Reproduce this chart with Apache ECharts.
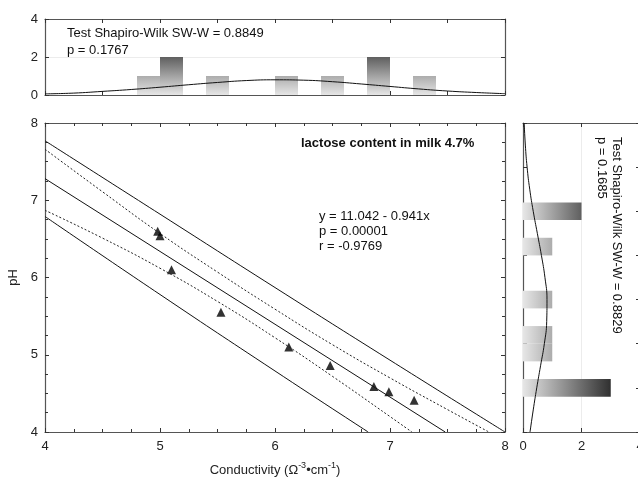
<!DOCTYPE html>
<html lang="en">
<head>
<meta charset="UTF-8">
<title>lactose-ph-conductivity</title>
<script src="https://cdn.jsdelivr.net/npm/echarts@6/dist/echarts.min.js"></script>
<style>html,body{margin:0;padding:0;background:#fff;}</style>
</head>
<body>
<div id="main" style="width:638px;height:481px;"></div>
<script>
// measured samples (conductivity, pH)
var condX = [4.98, 5.00, 5.10, 5.53, 6.12, 6.48, 6.86, 6.99, 7.21];
var phY   = [6.60, 6.54, 6.10, 5.55, 5.10, 4.86, 4.59, 4.52, 4.41];

// regression line and bands as [x, y]
var fitLine   = [[4, 7.28], [7.48, 4.0]];
var predUpper = [[4, 7.77], [5, 6.82], [6, 5.87], [7, 4.93], [8, 4.0]];
var predLower = [[4, 6.79], [5, 5.78], [6, 4.79], [6.81, 4.0]];
var confUpper = [[4, 7.66], [4.5, 7.11], [5, 6.57], [5.5, 6.07], [6, 5.59], [6.5, 5.13], [7, 4.70], [7.5, 4.29], [7.86, 4.0]];
var confLower = [[4, 6.87], [4.5, 6.51], [5, 6.12], [5.5, 5.69], [6, 5.22], [6.5, 4.72], [7, 4.20], [7.19, 4.0]];

// histogram of conductivity (top)
var binW = 0.2;
var topBinStart = [4.8, 5.0, 5.4, 6.0, 6.4, 6.8, 7.2];
var topCounts   = [1, 2, 1, 1, 1, 2, 1];
var topCurveX = [4, 4.25, 4.5, 4.75, 5, 5.25, 5.5, 5.75, 6, 6.25, 6.5, 6.75, 7, 7.25, 7.5, 7.75, 8];
var topCurveY = [0.06, 0.10, 0.19, 0.29, 0.41, 0.54, 0.66, 0.76, 0.80, 0.78, 0.70, 0.58, 0.45, 0.32, 0.21, 0.13, 0.07];

// histogram of pH (right)
var rightBinStart = [4.4, 4.8, 5.0, 5.4, 6.0, 6.4];
var rightCounts   = [3, 1, 1, 1, 1, 2];
var rightCurveY = [4, 4.25, 4.5, 4.75, 5, 5.25, 5.5, 5.75, 6, 6.25, 6.5, 6.75, 7, 7.25, 7.5];
var rightCurveX = [0.24, 0.35, 0.47, 0.60, 0.73, 0.81, 0.82, 0.75, 0.63, 0.49, 0.35, 0.23, 0.14, 0.08, 0.04];

var FONT = '"Liberation Sans", Arial, sans-serif';
var AXIS = '#555';

// bar shade gets darker with the count
var shade = [230, 172, 95, 48];
function darkFor(v) {
    var g = shade[Math.min(v, shade.length - 1)];
    return 'rgb(' + g + ',' + g + ',' + g + ')';
}

function axis(o) {
    var a = {
        type: 'value',
        gridIndex: o.grid,
        min: o.min, max: o.max, interval: o.interval,
        position: o.position,
        axisLine: { show: true, onZero: false, lineStyle: { color: AXIS, width: 1.2 } },
        axisTick: { show: true, inside: true, length: 4, lineStyle: { color: '#333' } },
        axisLabel: { show: !!o.labels, fontFamily: FONT, fontSize: 13, color: '#222', margin: o.margin || 8 },
        splitLine: { show: !!o.split, lineStyle: { color: '#ececec' } },
        minorTick: { show: !!o.minor, splitNumber: 4, length: 3, lineStyle: { color: '#333' } }
    };
    if (o.name) {
        a.name = o.name;
        a.nameLocation = 'middle';
        a.nameGap = o.nameGap;
        a.nameTextStyle = o.nameStyle;
    }
    return a;
}

var topData = [];
for (var i = 0; i < topBinStart.length; i++) {
    topData.push([topBinStart[i], topBinStart[i] + binW, topCounts[i]]);
}
var rightData = [];
for (var j = 0; j < rightBinStart.length; j++) {
    rightData.push([rightBinStart[j], rightBinStart[j] + binW, rightCounts[j]]);
}
var scatterData = condX.map(function (x, k) { return [x, phY[k]]; });
var topCurve = topCurveX.map(function (x, k) { return [x, topCurveY[k]]; });
var rightCurve = rightCurveY.map(function (y, k) { return [rightCurveX[k], y]; });

function topBar(params, api) {
    var c = api.value(2);
    var p0 = api.coord([api.value(0), c]);
    var p1 = api.coord([api.value(1), 0]);
    return {
        type: 'rect',
        shape: { x: p0[0], y: p0[1], width: p1[0] - p0[0], height: p1[1] - p0[1] },
        style: {
            fill: new echarts.graphic.LinearGradient(0, 0, 0, 1, [
                { offset: 0, color: darkFor(c) }, { offset: 1, color: darkFor(0) }
            ])
        }
    };
}
function rightBar(params, api) {
    var c = api.value(2);
    var p0 = api.coord([0, api.value(1)]);
    var p1 = api.coord([c, api.value(0)]);
    return {
        type: 'rect',
        shape: { x: p0[0], y: p0[1], width: p1[0] - p0[0], height: p1[1] - p0[1] },
        style: {
            fill: new echarts.graphic.LinearGradient(0, 0, 1, 0, [
                { offset: 0, color: darkFor(0) }, { offset: 1, color: darkFor(c) }
            ])
        }
    };
}

var chart = echarts.init(document.getElementById('main'));
var lineBlack = { color: '#111', width: 1 };
var lineDot = { color: '#222', width: 1, type: [2, 2] };

var option = {
    animation: false,
    backgroundColor: '#fff',
    grid: [
        { left: 45, top: 123, width: 460, height: 309, outerBoundsMode: 'none' },
        { left: 45, top: 19, width: 460, height: 76, outerBoundsMode: 'none' },
        { left: 523, top: 123, width: 117, height: 309, outerBoundsMode: 'none' }
    ],
    xAxis: [
        axis({ grid: 0, min: 4, max: 8, interval: 1, position: 'bottom', labels: true, minor: true,
            name: '{a|Conductivity (Ω}{s|-3}{a|•cm}{s|-1}{a|)}', nameGap: 29,
            nameStyle: { rich: {
                a: { fontFamily: FONT, fontSize: 13, color: '#222', lineHeight: 18 },
                s: { fontFamily: FONT, fontSize: 9, color: '#222', lineHeight: 10, verticalAlign: 'top' }
            } } }),
        axis({ grid: 0, min: 4, max: 8, interval: 1, position: 'top', minor: true }),
        axis({ grid: 1, min: 4, max: 8, interval: 0.5, position: 'bottom' }),
        axis({ grid: 1, min: 4, max: 8, interval: 0.5, position: 'top' }),
        axis({ grid: 2, min: 0, max: 4, interval: 2, position: 'bottom', labels: true, split: true }),
        axis({ grid: 2, min: 0, max: 4, interval: 2, position: 'top' })
    ],
    yAxis: [
        axis({ grid: 0, min: 4, max: 8, interval: 1, position: 'left', labels: true, minor: true, margin: 7,
            name: 'pH', nameGap: 23, nameStyle: { fontFamily: FONT, fontSize: 13, color: '#222' } }),
        axis({ grid: 0, min: 4, max: 8, interval: 1, position: 'right', minor: true }),
        axis({ grid: 1, min: 0, max: 4, interval: 2, position: 'left', labels: true, split: true, margin: 7 }),
        axis({ grid: 1, min: 0, max: 4, interval: 2, position: 'right' }),
        axis({ grid: 2, min: 4, max: 7.5, interval: 0.5, position: 'left' }),
        axis({ grid: 2, min: 4, max: 7.5, interval: 0.5, position: 'right' })
    ],
    series: [
        { type: 'line', xAxisIndex: 0, yAxisIndex: 0, data: predUpper, smooth: true, showSymbol: false, lineStyle: lineBlack },
        { type: 'line', xAxisIndex: 0, yAxisIndex: 0, data: predLower, smooth: true, showSymbol: false, lineStyle: lineBlack },
        { type: 'line', xAxisIndex: 0, yAxisIndex: 0, data: confUpper, smooth: true, showSymbol: false, lineStyle: lineDot },
        { type: 'line', xAxisIndex: 0, yAxisIndex: 0, data: confLower, smooth: true, showSymbol: false, lineStyle: lineDot },
        { type: 'line', xAxisIndex: 0, yAxisIndex: 0, data: fitLine, showSymbol: false, lineStyle: lineBlack },
        { type: 'scatter', xAxisIndex: 0, yAxisIndex: 0, data: scatterData, symbol: 'triangle', symbolSize: 9,
            itemStyle: { color: '#000' } },
        { type: 'custom', xAxisIndex: 2, yAxisIndex: 2, data: topData, renderItem: topBar,
            encode: { x: [0, 1], y: 2 } },
        { type: 'line', xAxisIndex: 2, yAxisIndex: 2, data: topCurve, smooth: true, showSymbol: false, lineStyle: lineBlack },
        { type: 'custom', xAxisIndex: 4, yAxisIndex: 4, data: rightData, renderItem: rightBar,
            encode: { x: 2, y: [0, 1] } },
        { type: 'line', xAxisIndex: 4, yAxisIndex: 4, data: rightCurve, smooth: true, showSymbol: false, lineStyle: lineBlack }
    ],
    graphic: [
        { type: 'text', left: 67, top: 25, style: { text: 'Test Shapiro-Wilk SW-W = 0.8849\np = 0.1767',
            font: '13px ' + FONT, fill: '#111', lineHeight: 17 } },
        { type: 'text', left: 301, top: 137, style: { text: 'lactose content in milk 4.7%',
            font: 'bold 13px ' + FONT, fill: '#111' } },
        { type: 'text', left: 319, top: 209, style: { text: 'y = 11.042 - 0.941x\np = 0.00001\nr = -0.9769',
            font: '13px ' + FONT, fill: '#111', lineHeight: 15 } },
        { type: 'text', x: 624, y: 137, rotation: -Math.PI / 2, style: { text: 'Test Shapiro-Wilk SW-W = 0.8829\np = 0.1685',
            font: '13px ' + FONT, fill: '#111', lineHeight: 15, align: 'left', verticalAlign: 'top' } }
    ]
};
chart.setOption(option);
</script>
</body>
</html>
